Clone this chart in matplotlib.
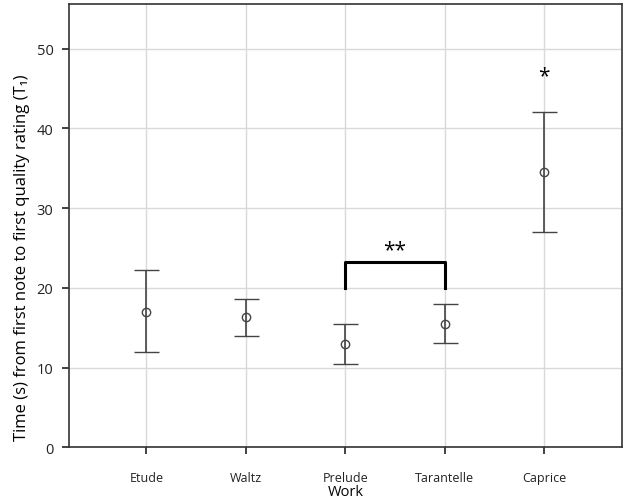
import matplotlib
matplotlib.use('Agg')
import matplotlib.pyplot as plt
import numpy as np

plt.rcParams['font.family'] = ['Open Sans', 'DejaVu Sans']

works = ['Etude', 'Waltz', 'Prelude', 'Tarantelle', 'Caprice']
means = [17.0, 16.3, 13.0, 15.5, 34.5]
upper = [22.2, 18.6, 15.5, 18.0, 42.0]
lower = [11.9, 14.0, 10.4, 13.1, 27.0]

# significance markers
bracket_pair = ('Prelude', 'Tarantelle')
bracket_low, bracket_high = 20.0, 23.2
single_star = ('Caprice', 46.6)

x = np.arange(1, len(works) + 1)
means = np.array(means)
err = [means - np.array(lower), np.array(upper) - means]

fig, ax = plt.subplots(figsize=(6.25, 5.02), dpi=100)
fig.subplots_adjust(left=0.11, right=0.995, top=0.99, bottom=0.107)

ax.set_axisbelow(True)
ax.grid(True, color='#d9d9d9', linewidth=1.0)
ax.errorbar(x, means, yerr=err, fmt='o', mfc='none', mec='#444444', ms=6,
            mew=1.0, ecolor='#444444', elinewidth=1.2, capsize=9, capthick=1.2)

# bracket
xa = works.index(bracket_pair[0]) + 1
xb = works.index(bracket_pair[1]) + 1
ax.plot([xa, xa, xb, xb], [bracket_low, bracket_high, bracket_high, bracket_low],
        color='black', linewidth=2.2, solid_joinstyle='round')
ax.text((xa + xb) / 2, bracket_high + 0.3, '**', ha='center', va='bottom', fontsize=15)
ax.text(works.index(single_star[0]) + 1, single_star[1], '*', ha='center', va='center',
        fontsize=15)

ax.set_xlim(0.22, 5.78)
ax.set_ylim(0, 55.6)
ax.set_xticks(x)
ax.set_xticklabels(works)
ax.set_yticks([0, 10, 20, 30, 40, 50])
ax.tick_params(axis='both', labelsize=9, direction='out', length=5, width=1.2,
               colors='#222222', pad=8)
ax.tick_params(axis='x', pad=12)
ax.tick_params(axis='y', labelsize=10.5, pad=6)
for s in ax.spines.values():
    s.set_color('#333333')
    s.set_linewidth(1.2)

ax.set_xlabel('Work', fontsize=10.5, labelpad=0)
ax.set_ylabel('Time (s) from first note to first quality rating (T\u2081)', fontsize=12)
ax.yaxis.set_label_coords(-0.07, 0.43)

fig.savefig('out.png')
